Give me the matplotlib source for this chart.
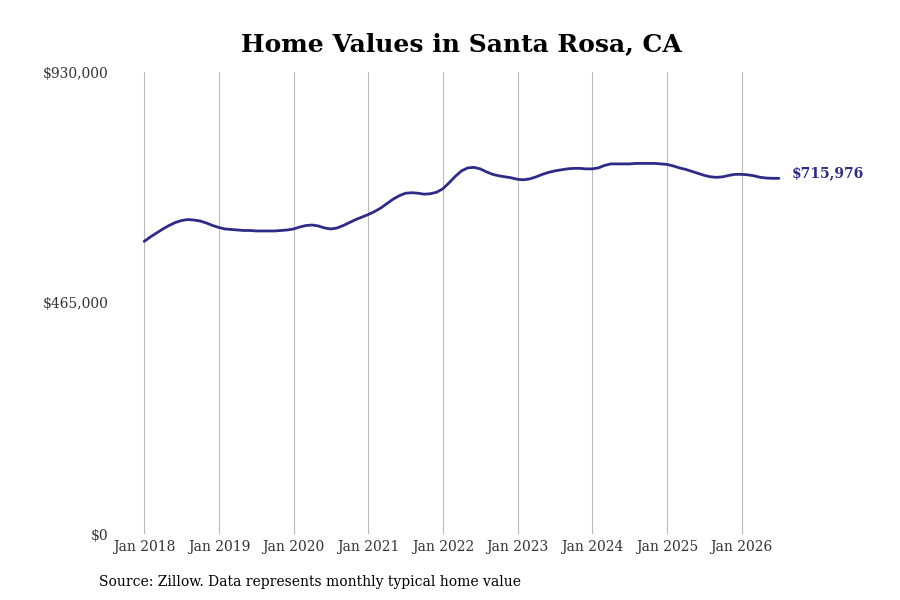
import matplotlib
matplotlib.use("Agg")
import matplotlib.pyplot as plt
import numpy as np

# Monthly typical home values, Jan 2018 - Jul 2026
values = [
    589000, 598000, 606000, 614000, 621000, 627000, 631000, 633000, 632000, 630000, 626000, 621000,  # 2018
    617000, 614000, 613000, 612000, 611000, 611000, 610000, 610000, 610000, 610000, 611000, 612000,  # 2019
    614000, 618000, 621000, 622000, 620000, 616000, 614000, 616000, 621000, 627000, 633000, 638000,  # 2020
    643000, 649000, 656000, 665000, 674000, 681000, 686000, 687000, 686000, 684000, 685000, 688000,  # 2021
    695000, 707000, 720000, 731000, 737000, 738000, 735000, 729000, 724000, 721000, 719000, 717000,  # 2022
    714000, 713000, 715000, 719000, 724000, 728000, 731000, 733000, 735000, 736000, 736000, 735000,  # 2023
    735000, 737000, 742000, 745000, 745000, 745000, 745000, 746000, 746000, 746000, 746000, 745000,  # 2024
    744000, 741000, 737000, 734000, 730000, 726000, 722000, 719000, 718000, 719000, 722000, 724000,  # 2025
    724000, 723000, 721000, 718000, 716500, 716000, 715976,                                          # 2026
]
tick_labels = ["Jan 2018", "Jan 2019", "Jan 2020", "Jan 2021", "Jan 2022",
               "Jan 2023", "Jan 2024", "Jan 2025", "Jan 2026"]
y_ticks = [0, 465000, 930000]
y_tick_labels = ["$0", "$465,000", "$930,000"]
last_label = "$715,976"

plt.rcParams['font.family'] = ['DejaVu Serif']

fig = plt.figure(figsize=(9, 6), dpi=100)
ax = fig.add_axes([0.128, 0.11, 0.828, 0.77])

x = np.arange(len(values))
line_color = "#2e2b88"
ax.plot(x, values, color=line_color, lw=2.0, solid_capstyle='round')

ax.set_ylim(0, 930000)
ax.set_xlim(-4.66, 115.1)
ax.set_xticks(np.arange(len(tick_labels)) * 12)
ax.set_xticklabels(tick_labels, fontsize=10, color="#333333")
ax.set_yticks(y_ticks)
ax.set_yticklabels(y_tick_labels, fontsize=10, color="#333333")
ax.tick_params(axis='both', length=0)
ax.tick_params(axis='y', pad=5)
ax.tick_params(axis='x', pad=4)
ax.grid(axis='x', color="#bbbbbb", lw=0.8)
ax.grid(axis='y', visible=False)
for s in ax.spines.values():
    s.set_visible(False)

ax.annotate(last_label, xy=(x[-1], values[-1]), xytext=(9, 3.6),
            textcoords='offset points', va='center', ha='left',
            fontsize=10, fontweight='bold', color=line_color)

fig.text(0.513, 0.926, "Home Values in Santa Rosa, CA", ha='center', va='center',
         fontsize=18, fontweight='bold', color='black')
fig.text(0.11, 0.03, "Source: Zillow. Data represents monthly typical home value",
         ha='left', va='center', fontsize=10, color='black')

fig.savefig("out.png", dpi=100)
